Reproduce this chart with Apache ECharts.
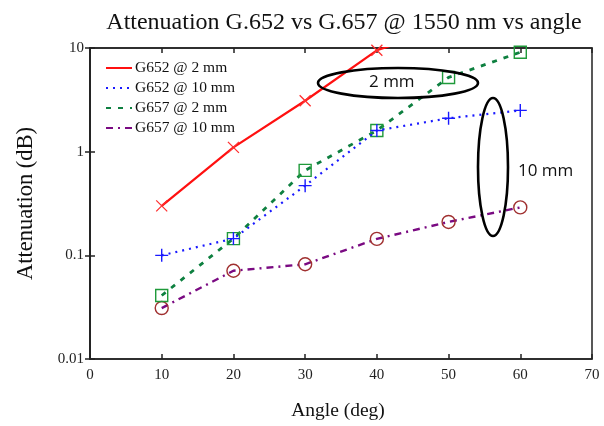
<!DOCTYPE html>
<html>
<head>
<meta charset="utf-8">
<script src="https://cdn.jsdelivr.net/npm/echarts@6/dist/echarts.min.js"></script>
<style>
html,body{margin:0;padding:0;background:#fff;}
#chart{width:604px;height:426px;}
</style>
</head>
<body>
<div id="chart"></div>
<script>
const angles = [10, 20, 30, 40, 50, 60];
const g652_2mm = [0.3, 1.1, 3.1, 9.5, 16, 30];
const g652_10mm = [0.1, 0.145, 0.47, 1.6, 2.1, 2.5];
const g657_2mm = [0.041, 0.145, 0.66, 1.6, 5.2, 9.1];
const g657_10mm = [0.031, 0.071, 0.082, 0.144, 0.21, 0.29];
const seriesNames = ['G652 @ 2 mm', 'G652 @ 10 mm', 'G657 @ 2 mm', 'G657 @ 10 mm'];
const xTicks = [0, 10, 20, 30, 40, 50, 60, 70];
const yTicks = [0.01, 0.1, 1, 10];

const pairs = arr => angles.map((a, i) => [a, arr[i]]);
const serif = '"Liberation Serif", "DejaVu Serif", serif';
const crossPath = 'path://M0,0L10,10M10,0L0,10';
const plusPath = 'path://M5,0L5,10M0,5L10,5';

const chart = echarts.init(document.getElementById('chart'), null, {renderer: 'canvas'});
const option = {
  animation: false,
  backgroundColor: '#fff',
  title: {
    text: 'Attenuation G.652 vs G.657 @ 1550 nm vs angle',
    left: 339, top: 6, textAlign: 'center',
    textStyle: {fontFamily: serif, fontSize: 24, fontWeight: 'normal', color: '#111'}
  },
  grid: {left: 90, right: 12, top: 48, bottom: 65, show: true, borderColor: '#222', borderWidth: 1.5, backgroundColor: 'transparent'},
  legend: {
    orient: 'vertical', left: 100, top: 55,
    itemWidth: 26, itemHeight: 14, itemGap: 4,
    data: seriesNames,
    itemStyle: {opacity: 0},
    textStyle: {fontFamily: serif, fontSize: 15.5, color: '#111', padding: [0, 0, 0, -2]}
  },
  xAxis: [{
    type: 'value', min: 0, max: 70, interval: 10,
    name: 'Angle (deg)', nameLocation: 'middle', nameGap: 42,
    nameTextStyle: {fontFamily: serif, fontSize: 19.5, color: '#111', padding: [0, 6, 0, 0]},
    axisLine: {show: true, lineStyle: {color: '#222', width: 1.5}},
    axisTick: {show: true, inside: true, length: 5, lineStyle: {color: '#222', width: 1.5}},
    axisLabel: {fontFamily: serif, fontSize: 15, color: '#222', margin: 9},
    splitLine: {show: false}
  }, {
    type: 'value', min: 0, max: 70, interval: 10, position: 'top',
    axisLine: {show: true, lineStyle: {color: '#222', width: 1.5}},
    axisTick: {show: true, inside: true, length: 5, lineStyle: {color: '#222', width: 1.5}},
    axisLabel: {show: false}, splitLine: {show: false}
  }],
  yAxis: [{
    type: 'log', logBase: 10, min: 0.01, max: 10,
    name: 'Attenuation (dB)', nameLocation: 'middle', nameGap: 52,
    nameTextStyle: {fontFamily: serif, fontSize: 22.5, color: '#111'},
    axisLine: {show: true, lineStyle: {color: '#222', width: 1.5}},
    axisTick: {show: true, inside: true, length: 5, lineStyle: {color: '#222', width: 1.5}},
    axisLabel: {fontFamily: serif, fontSize: 15, color: '#222', margin: 6,
      formatter: v => { const t = yTicks.find(k => Math.abs(Math.log10(k) - Math.log10(v)) < 1e-6); return t !== undefined ? String(t) : ''; }},
    minorTick: {show: false},
    splitLine: {show: false}
  }, {
    type: 'log', logBase: 10, min: 0.01, max: 10, position: 'right',
    axisLine: {show: true, lineStyle: {color: '#222', width: 1.5}},
    axisTick: {show: true, inside: true, length: 5, lineStyle: {color: '#222', width: 1.5}},
    axisLabel: {show: false}, splitLine: {show: false}
  }],
  series: [
    {
      name: seriesNames[0], type: 'line', data: pairs(g652_2mm), clip: true,
      symbol: crossPath, symbolSize: 11,
      lineStyle: {color: '#ff1010', width: 2.2, type: 'solid'},
      itemStyle: {color: 'rgba(0,0,0,0)', borderColor: '#ff3030', borderWidth: 1.3},
      color: '#ff1010', z: 5
    },
    {
      name: seriesNames[1], type: 'line', data: pairs(g652_10mm), clip: true,
      symbol: plusPath, symbolSize: 13,
      lineStyle: {color: '#1a1aff', width: 2.2, type: [2, 5]},
      itemStyle: {color: 'rgba(0,0,0,0)', borderColor: '#1a1aff', borderWidth: 1.4},
      color: '#1a1aff', z: 4
    },
    {
      name: seriesNames[2], type: 'line', data: pairs(g657_2mm), clip: true,
      symbol: 'rect', symbolSize: 12,
      lineStyle: {color: '#0e8040', width: 2.8, type: [5, 7]},
      itemStyle: {color: 'rgba(255,255,255,0)', borderColor: '#1f9a3a', borderWidth: 1.4},
      color: '#0e8040', z: 3
    },
    {
      name: seriesNames[3], type: 'line', data: pairs(g657_10mm), clip: true,
      symbol: 'circle', symbolSize: 13,
      lineStyle: {color: '#7a0a82', width: 2.4, type: [7, 5, 2, 5]},
      itemStyle: {color: 'rgba(255,255,255,0)', borderColor: '#a03030', borderWidth: 1.4},
      color: '#7a0a82', z: 2
    }
  ],
  graphic: [
    {type: 'ellipse', shape: {cx: 398, cy: 83, rx: 80, ry: 15}, style: {fill: 'none', stroke: '#000', lineWidth: 2.6}, z: 10},
    {type: 'text', left: 369, top: 74, style: {text: '2 mm', font: '17px "Open Sans", "Liberation Sans", sans-serif', fill: '#111'}, z: 10},
    {type: 'ellipse', shape: {cx: 493, cy: 167, rx: 15, ry: 69}, style: {fill: 'none', stroke: '#000', lineWidth: 2.6}, z: 10},
    {type: 'text', left: 518, top: 163, style: {text: '10 mm', font: '17px "Open Sans", "Liberation Sans", sans-serif', fill: '#111'}, z: 10}
  ]
};
chart.setOption(option);
</script>
</body>
</html>
